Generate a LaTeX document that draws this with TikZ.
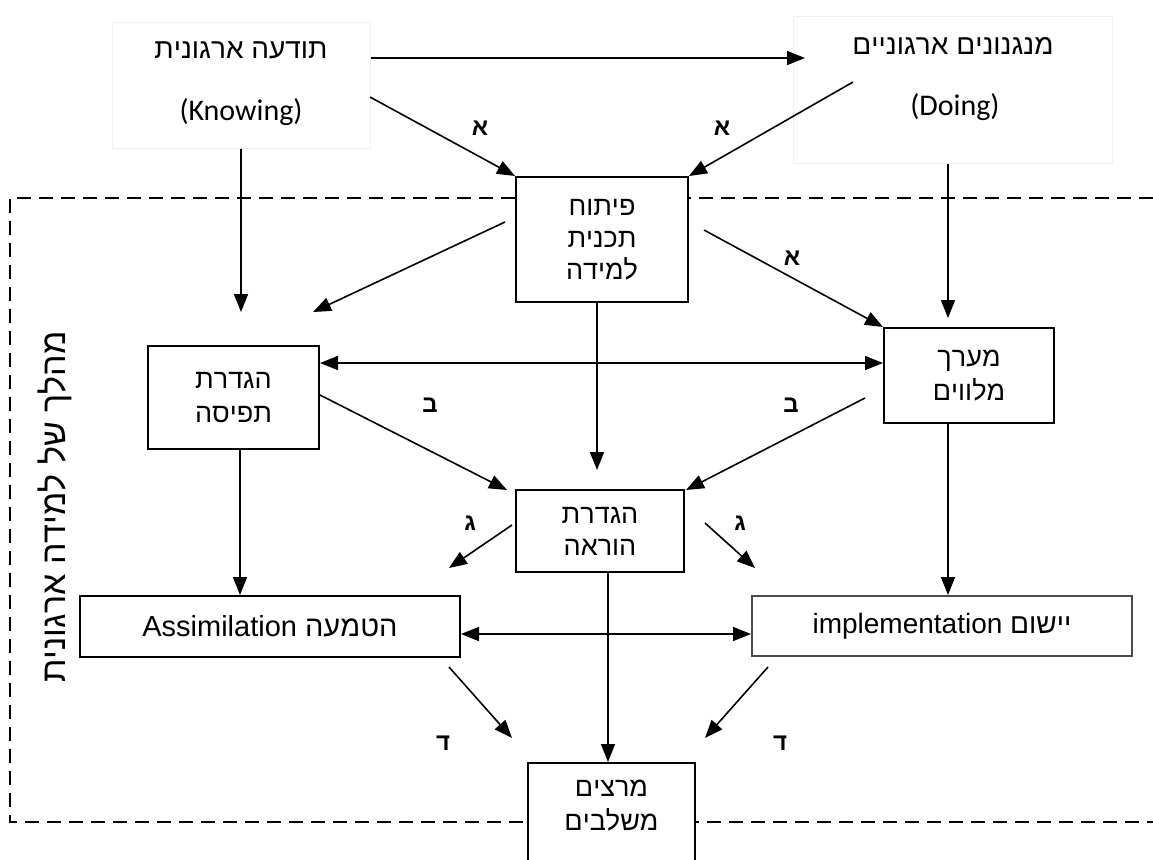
\documentclass[tikz,border=0pt]{standalone}
\usepackage{fontspec}
\setmainfont{Liberation Sans}
\newfontfamily\calib{Carlito}
\TeXXeTstate=1
\usetikzlibrary{arrows.meta}
\tikzset{
  box/.style={draw, line width=1pt, fill=white, inner sep=0pt},
  faint/.style={draw=black!6, line width=0.5pt, fill=white, inner sep=0pt},
  heb/.style={font=\fontsize{13.5}{16}\selectfont, align=center},
  arr/.style={line width=0.8pt, -{Triangle[length=9pt,width=7pt]}},
  darr/.style={line width=0.8pt, {Triangle[length=9pt,width=7pt]}-{Triangle[length=9pt,width=7pt]}},
  lbl/.style={font=\bfseries\fontsize{12}{14}\selectfont},
  frame/.style={line width=0.8pt, dash pattern=on 7pt off 4pt}
}
\begin{document}
\begin{tikzpicture}[x=0.5pt,y=-0.5pt]
\clip (0,0) rectangle (1153,859);
\fill[white] (0,0) rectangle (1153,859);
% dashed frame
\draw[frame] (1153,198) -- (10,198) -- (10,822) -- (1153,822);
% top boxes
\node[faint, minimum width=129pt, minimum height=63pt] (know) at (241,85) {};
\node[font=\fontsize{14}{16}\selectfont] (knowT) at (241,50) {\beginR תודעה ארגונית\endR};
\node[font=\calib\fontsize{15}{16}\selectfont] (knowE) at (241,112) {(Knowing)};
\node[faint, minimum width=159.5pt, minimum height=73.5pt] (do) at (952.5,89.5) {};
\node[font=\fontsize{14}{16}\selectfont] (doT) at (953,46) {\beginR מנגנונים ארגוניים\endR};
\node[font=\calib\fontsize{15}{16}\selectfont] (doE) at (955,107) {(Doing)};
% inner boxes
\node[box, heb, minimum width=86pt, minimum height=62.5pt] (dev) at (602,239.5)
  {\beginR פיתוח\endR\\ \beginR תכנית\endR\\ \beginR למידה\endR};
\node[box, heb, minimum width=85.5pt, minimum height=51.5pt] (conc) at (233.5,397.5)
  {\beginR הגדרת\endR\\[1pt] \beginR תפיסה\endR};
\node[box, heb, minimum width=85pt, minimum height=47.5pt] (staff) at (969,375.5)
  {\beginR מערך\endR\\[1pt] \beginR מלווים\endR};
\node[box, heb, minimum width=84pt, minimum height=41pt] (teach) at (600,531)
  {\beginR הגדרת\endR\\ \beginR הוראה\endR};
\node[box, minimum width=190pt, minimum height=30.5pt, font=\fontsize{14.5}{18}\selectfont] (assim) at (270,626.5)
  {\beginR הטמעה \beginL Assimilation\endL\endR};
\node[box, draw=black!70, minimum width=190pt, minimum height=30pt, font=\fontsize{14}{18}\selectfont] (impl) at (942,626)
  {\beginR יישום \beginL implementation\endL\endR};
\node[box, minimum width=83.5pt, minimum height=58.5pt] (lect) at (611.5,821.5) {};
\node[heb] (lectT) at (611.5,806) {\beginR מרצים\endR\\[1pt] \beginR משלבים\endR};
% side text
\node[rotate=90, font=\fontsize{17}{20}\selectfont] (side) at (55,507) {\beginR מהלך של למידה ארגונית\endR};
% free arrow ends
\coordinate (t1) at (805,58);
\coordinate (s2) at (370,97);
\coordinate (s3) at (853,82);
\coordinate (t4) at (241,312);
\coordinate (t5) at (948,318);
\coordinate (s6) at (505,222);
\coordinate (t6) at (313,312);
\coordinate (s7) at (704,230);
\coordinate (t9) at (597,470);
\coordinate (s10) at (320,395);
\coordinate (t10) at (507,490);
\coordinate (s11) at (865,398);
\coordinate (t11) at (686,490);
\coordinate (s12) at (512,525);
\coordinate (t12) at (449,568);
\coordinate (s13) at (705,523);
\coordinate (t13) at (755,568);
\coordinate (s18) at (449,667);
\coordinate (t18) at (512,738);
\coordinate (s19) at (768,667);
\coordinate (t19) at (705,738);
% connectors
\draw[arr] (know.east |- t1) -- (t1);
\draw[arr] (s2) -- (dev.north west);
\draw[arr] (s3) -- (dev.north east);
\draw[arr] (know.south) -- (know.south |- t4);
\draw[arr] (do.south -| t5) -- (t5);
\draw[arr] (s6) -- (t6);
\draw[arr] (s7) -- (staff.north west);
\draw[darr] (conc.east |- 0,363) -- (staff.west |- 0,363);
\draw[arr] (dev.south -| t9) -- (t9);
\draw[arr] (s10) -- (t10);
\draw[arr] (s11) -- (t11);
\draw[arr] (s12) -- (t12);
\draw[arr] (s13) -- (t13);
\draw[arr] (conc.south -| 240,0) -- (assim.north -| 240,0);
\draw[arr] (staff.south -| 948,0) -- (impl.north -| 948,0);
\draw[darr] (assim.east |- 0,634) -- (impl.west |- 0,634);
\draw[arr] (teach.south -| 608,0) -- (lect.north -| 608,0);
\draw[arr] (s18) -- (t18);
\draw[arr] (s19) -- (t19);
% labels
\node[lbl] (la1) at (480,128) {\beginR א\endR};
\node[lbl] (la2) at (722,128) {\beginR א\endR};
\node[lbl] (la3) at (792,258) {\beginR א\endR};
\node[lbl] (lb1) at (430,405) {\beginR ב\endR};
\node[lbl] (lb2) at (791,405) {\beginR ב\endR};
\node[lbl] (lg1) at (470,523) {\beginR ג\endR};
\node[lbl] (lg2) at (740,523) {\beginR ג\endR};
\node[lbl] (ld1) at (443,743) {\beginR ד\endR};
\node[lbl] (ld2) at (780,743) {\beginR ד\endR};
\end{tikzpicture}
\end{document}
